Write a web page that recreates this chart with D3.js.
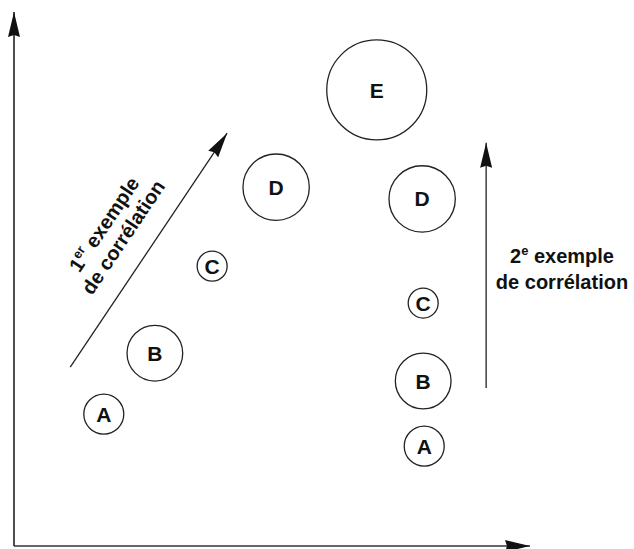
<!DOCTYPE html>
<html>
<head>
<meta charset="utf-8">
<script src="https://cdn.jsdelivr.net/npm/d3@7"></script>
<style>
  html,body{margin:0;padding:0;background:#fff;}
  svg{display:block;}
  text{font-family:"Liberation Sans",Arial,Helvetica,sans-serif;font-weight:700;fill:#111;}
</style>
</head>
<body>
<div id="chart"></div>
<script>
"use strict";
// deux exemples de corrélation — bulles A..E, axes sans graduation
const labels   = ["A","B","C","D","E","D","C","B","A"];
const group    = [1,1,1,1,0,2,2,2,2];                 // 1 = 1er exemple, 2 = 2e exemple, 0 = E
const xVals    = [17.4, 27.3, 38.4, 50.8, 70.3, 79.1, 79.3, 79.3, 79.5];
const yVals    = [24.7, 36.1, 52.4, 67.2, 85.4, 65.0, 45.5, 30.9, 18.7];
const sizeVals = [16, 31, 9, 44, 100, 44, 9, 31, 16];

const W = 634, H = 549;
const x = d3.scaleLinear().domain([0,100]).range([14,530]);
const y = d3.scaleLinear().domain([0,100]).range([546,12]);
const r = d3.scaleSqrt().domain([0,100]).range([0,50]);

const svg = d3.select("#chart").append("svg").attr("width",W).attr("height",H);
const defs = svg.append("defs");
defs.append("marker").attr("id","arr").attr("viewBox","0 0 25 12").attr("refX",25).attr("refY",6)
  .attr("markerWidth",25).attr("markerHeight",12).attr("markerUnits","userSpaceOnUse").attr("orient","auto")
  .append("path").attr("d","M0,0 L25,6 L0,12 L2,6 Z").attr("fill","#111");

// axes (flèches)
svg.append("line").attr("x1",x(0)).attr("y1",y(0)).attr("x2",x(100)).attr("y2",y(0))
  .attr("stroke","#333").attr("stroke-width",1.6).attr("marker-end","url(#arr)");
svg.append("line").attr("x1",x(0)).attr("y1",y(0)).attr("x2",x(0)).attr("y2",y(100))
  .attr("stroke","#222").attr("stroke-width",1.6).attr("marker-end","url(#arr)");

// flèches des deux exemples
const arrows = [
  {x1:10.9, y1:33.5, x2:41.3, y2:77.3},
  {x1:91.5, y1:29.6, x2:91.5, y2:75.5}
];
svg.selectAll("line.ex").data(arrows).join("line").attr("class","ex")
  .attr("x1",d=>x(d.x1)).attr("y1",d=>y(d.y1)).attr("x2",d=>x(d.x2)).attr("y2",d=>y(d.y2))
  .attr("stroke","#222").attr("stroke-width",1.3).attr("marker-end","url(#arr)");

// bulles
const pts = labels.map((l,i)=>({l, g:group[i], x:xVals[i], y:yVals[i], s:sizeVals[i]}));
const node = svg.append("g").selectAll("g").data(pts).join("g")
  .attr("transform",d=>`translate(${x(d.x)},${y(d.y)})`);
node.append("circle").attr("r",d=>r(d.s)).attr("fill","none").attr("stroke","#222").attr("stroke-width",1.3);
node.append("text").attr("text-anchor","middle").attr("dy","0.36em").attr("font-size",21).text(d=>d.l);

// libellé du 1er exemple (tourné le long de la flèche)
const ang = Math.atan2(y(77.3)-y(33.5), x(41.3)-x(10.9))*180/Math.PI;
const t1 = svg.append("g").attr("transform",`translate(114,231) rotate(${ang})`);
const l1 = t1.append("text").attr("text-anchor","middle").attr("y",-5).attr("font-size",20);
l1.append("tspan").text("1");
l1.append("tspan").attr("font-size",13).attr("dy",-8).text("er");
l1.append("tspan").attr("dy",8).text(" exemple");
t1.append("text").attr("text-anchor","middle").attr("y",18).attr("font-size",20).text("de corrélation");

// libellé du 2e exemple
const l2 = svg.append("text").attr("x",562).attr("y",263).attr("text-anchor","middle").attr("font-size",20);
l2.append("tspan").text("2");
l2.append("tspan").attr("font-size",13).attr("dy",-8).text("e");
l2.append("tspan").attr("dy",8).text(" exemple");
svg.append("text").attr("x",562).attr("y",289).attr("text-anchor","middle").attr("font-size",20).text("de corrélation");
</script>
</body>
</html>
